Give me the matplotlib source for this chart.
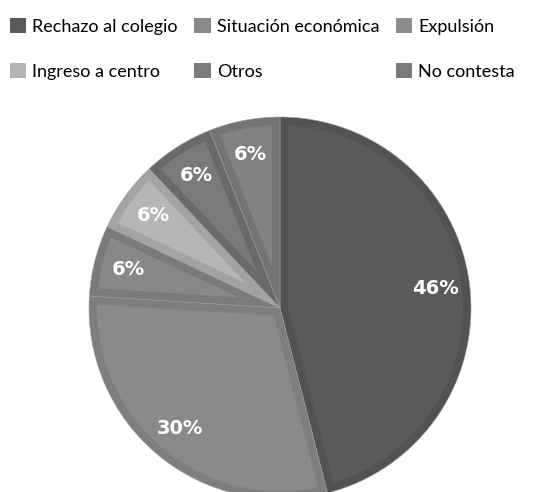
import numpy as np
import matplotlib
matplotlib.use("Agg")
import matplotlib.pyplot as plt
from matplotlib.patches import Polygon, Patch

categories = ["Rechazo al colegio", "Situación económica", "Expulsión",
              "Ingreso a centro", "Otros", "No contesta"]
values = [46, 30, 6, 6, 6, 6]
face_colors = ["#5b5b5b", "#8a8a8a", "#888888", "#b6b6b6", "#7a7a7a", "#828282"]
rim_colors = ["#525252", "#7e7e7e", "#7a7a7a", "#a3a3a3", "#696969", "#747474"]
legend_colors = ["#5a5a5a", "#898989", "#8c8c8c", "#b4b4b4", "#7a7a7a", "#7b7b7b"]

fig = plt.figure(figsize=(5.58, 4.92), dpi=100)
ax = fig.add_axes([0.1595, -0.0142, 0.6846, 0.7764])

wedges, texts, autotexts = ax.pie(
    values, colors=rim_colors, startangle=90, counterclock=False,
    radius=1.0, autopct=lambda p: f"{p:.0f}%", pctdistance=0.82,
    wedgeprops=dict(edgecolor="#9a9a9a", linewidth=0.4),
    textprops=dict(color="white", fontsize=14, fontweight="bold",
                   family="DejaVu Sans"))

# inner bevel: each slice is drawn again, inset by a rim width
rim = 0.042
r_in = 1.0 - rim
for w, fc in zip(wedges, face_colors):
    a1, a2 = np.deg2rad(w.theta1), np.deg2rad(w.theta2)
    half = (a2 - a1) / 2
    mid = (a1 + a2) / 2
    apex_d = rim / np.sin(half)
    apex = (apex_d * np.cos(mid), apex_d * np.sin(mid))
    da = np.arcsin(rim / r_in)
    arc = np.linspace(a1 + da, a2 - da, 120)
    pts = [apex] + [(r_in * np.cos(t), r_in * np.sin(t)) for t in arc]
    ax.add_patch(Polygon(pts, closed=True, facecolor=fc, edgecolor="none", zorder=1.5))

for t in autotexts:
    t.set_zorder(3)

ax.set_xlim(-1, 1)
ax.set_ylim(-1, 1)
ax.set_aspect("equal")
ax.axis("off")

order = [0, 3, 1, 4, 2, 5]
handles = [Patch(facecolor=legend_colors[i], edgecolor="none") for i in order]
labels = [categories[i] for i in order]
fig.legend(handles, labels, ncol=3, loc="upper left",
           bbox_to_anchor=(0.0, 1.0 - 0.016), frameon=False,
           prop=dict(family="Lato", size=13),
           handlelength=0.9, handleheight=0.9, handletextpad=0.35,
           labelspacing=1.6, columnspacing=0.9, borderaxespad=0.3,
           borderpad=0.25)

fig.savefig("out.png", dpi=100, facecolor="white")
